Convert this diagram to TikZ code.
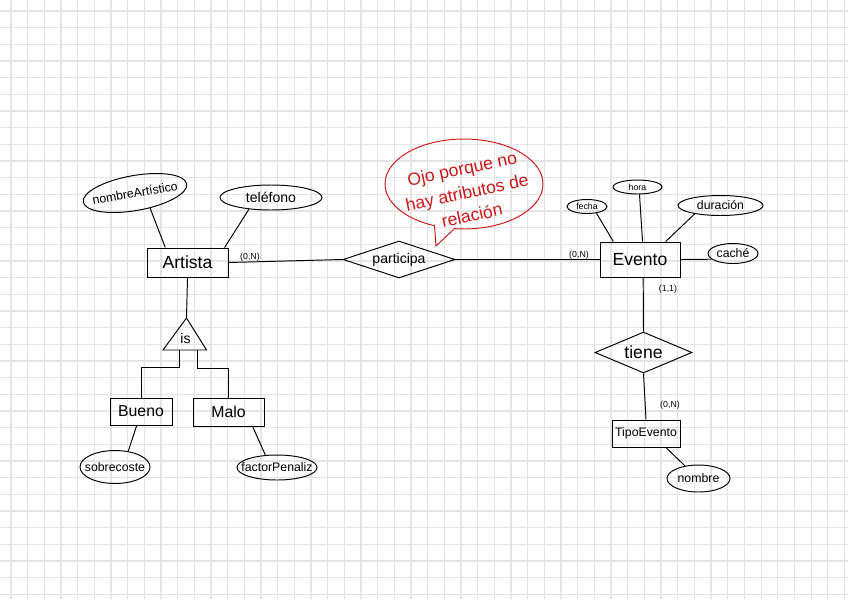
\documentclass[tikz,border=0pt]{standalone}
\usepackage{fontspec}
\setmainfont{Liberation Sans}
\usetikzlibrary{
    shapes.geometric,
    shapes.callouts
}
\definecolor{notared}{RGB}{205,25,25}
\definecolor{rejilla}{RGB}{228,228,228}
\newcommand{\etq}[1]{\makebox[0pt]{#1}}
\tikzset{
  every path/.style={
    black,
    line width=0.55pt
  },
  entidad/.style={draw, rectangle, inner sep=0pt},
  relacion/.style={draw, diamond, aspect=3, inner sep=0pt},
  atributo/.style={draw, ellipse, inner sep=0pt, font=\scriptsize},
  card/.style={font=\tiny, inner sep=0pt},
  rejillalinea/.style={draw=rejilla, line width=0.6pt}
}

\begin{document}
\begin{tikzpicture}[x=0.02cm, y=-0.02cm]

    \useasboundingbox (0,0) rectangle (848,599);
    \fill[white] (0,0) rectangle (848,599);

    %-------------------------
    % rejilla del papel
    %-------------------------
    \foreach \k in {0,...,50}
      \draw[rejillalinea] ({11+16.667*\k},0) -- ({11+16.667*\k},599);
    \foreach \k in {0,...,35}
      \draw[rejillalinea] (0,{11+16.667*\k}) -- (848,{11+16.667*\k});

    %-------------------------
    % entidades
    %-------------------------
    \node[entidad, minimum width=1.62cm, minimum height=0.58cm] (artista) at (187.5,262.5) {Artista};
    \node[entidad, minimum width=1.6cm, minimum height=0.7cm] (evento) at (640,259.5) {Evento};
    \node[entidad, minimum width=1.36cm, minimum height=0.54cm, font=\scriptsize] (tipo) at (646,433.5) {TipoEvento};
    \node[entidad, minimum width=1.24cm, minimum height=0.54cm, font=\small] (bueno) at (141,411.5) {Bueno};
    \node[entidad, minimum width=1.42cm, minimum height=0.56cm, font=\small] (malo) at (228.5,412) {Malo};

    %-------------------------
    % relaciones
    %-------------------------
    \node[relacion, minimum width=2.24cm, minimum height=0.74cm, font=\footnotesize] (participa) at (399,259.5) {participa};
    \node[relacion, minimum width=1.94cm, minimum height=0.82cm] (tiene) at (643.5,352.5) {tiene};

    %-------------------------
    % atributos
    %-------------------------
    \node[atributo, rotate=10, minimum width=2.1cm, minimum height=0.7cm] (nomart) at (135,193) {\etq{nombreArtístico}};
    \node[atributo, minimum width=2.04cm, minimum height=0.5cm, font=\footnotesize] (tel) at (271,197.5) {\etq{teléfono}};
    \node[atributo, minimum width=0.8cm, minimum height=0.28cm, font=\tiny] (fecha) at (587,206.5) {\etq{fecha}};
    \node[atributo, minimum width=0.98cm, minimum height=0.28cm, font=\tiny] (hora) at (637.5,187) {\etq{hora}};
    \node[atributo, minimum width=1.7cm, minimum height=0.4cm] (dur) at (720.5,205.5) {\etq{duración}};
    \node[atributo, minimum width=1.0cm, minimum height=0.4cm] (cache) at (733,253.5) {\etq{caché}};
    \node[atributo, minimum width=1.26cm, minimum height=0.54cm] (nombre) at (698.5,478.5) {\etq{nombre}};
    \node[atributo, minimum width=1.4cm, minimum height=0.66cm] (sobre) at (115,467) {\etq{sobrecoste}};
    \node[atributo, minimum width=1.6cm, minimum height=0.5cm] (factor) at (277,467.5) {\etq{factorPenaliz}};

    %-------------------------
    % jerarquia is
    %-------------------------
    \coordinate (isapex) at (186.5,318);
    \coordinate (isizq) at (163,350);
    \coordinate (isder) at (206.5,350);
    \coordinate (isbase1) at (179,350);
    \coordinate (isbase2) at (197.5,350);
    \draw (isapex) -- (isizq) -- (isder) -- cycle;
    \node[font=\footnotesize, inner sep=0pt] (is) at (185.5,338) {is};

    %-------------------------
    % conexiones
    %-------------------------
    \draw (nomart.-55) -- (artista.146);
    \draw (tel.208) -- (artista.22);
    \draw (artista.east) -- (participa.west);
    \draw (participa.east) -- (evento.west);
    \draw (fecha.-35) -- (evento.146);
    \draw (hora.-75) -- (evento.82);
    \draw (dur.198) -- (evento.35);
    \draw (cache.195) -- (evento.east);
    \draw (evento.-80) -- (tiene.north);
    \draw (tiene.south) -- (tipo.north);
    \draw (tipo.-35) -- (nombre.137);
    \draw (artista.south) -- (isapex);
    \draw (isbase1) -- ++(0,17) -| (bueno.north);
    \draw (isbase2) -- ++(0,18) -| (malo.north);
    \draw (bueno.-107) -- (sobre.50);
    \draw (malo.-31) -- (factor.133);

    %-------------------------
    % cardinalidades
    %-------------------------
    \node[card] (c1) at (250,257) {(0,N)};
    \node[card] (c2) at (579,255) {(0,N)};
    \node[card] (c3) at (668,289) {(1,1)};
    \node[card] (c4) at (670,405) {(0,N)};

    %-------------------------
    % nota en rojo
    %-------------------------
    \node[ellipse callout, draw=notared, inner sep=0pt, minimum width=3.16cm, minimum height=1.8cm,
          callout absolute pointer={(436,246)}] (nota) at (464,184) {};
    \node[text=notared, rotate=12, align=center, font=\fontsize{10}{13.5}\selectfont] (notatxt) at (467,192)
      {Ojo porque no\\hay atributos de\\relación};

\end{tikzpicture}
\end{document}
